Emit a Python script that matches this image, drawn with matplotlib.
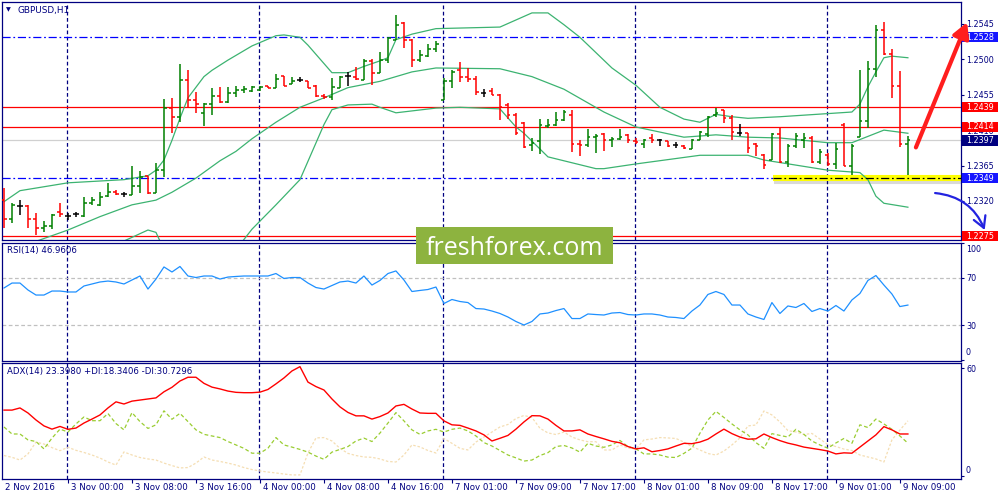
import matplotlib
matplotlib.use('Agg')
import matplotlib.pyplot as plt
import matplotlib.transforms as mtransforms
import matplotlib.patheffects as pe
from matplotlib.patches import Rectangle
import numpy as np

# ---------------- data (GBPUSD H1, 2-9 Nov 2016) ----------------
dateLabels = ['2 Nov 2016', '3 Nov 00:00', '3 Nov 08:00', '3 Nov 16:00', '4 Nov 00:00',
              '4 Nov 08:00', '4 Nov 16:00', '7 Nov 01:00', '7 Nov 09:00', '7 Nov 17:00',
              '8 Nov 01:00', '8 Nov 09:00', '8 Nov 17:00', '9 Nov 01:00', '9 Nov 09:00']
dateTickBars = [0, 8, 16, 24, 32, 40, 48, 56, 64, 72, 80, 88, 96, 104, 112]
daySeparatorBars = [8, 32, 55, 79, 103]

opens = [1.2321, 1.2297, 1.2314, 1.2314, 1.2297, 1.2286, 1.2288, 1.2306, 1.2301, 1.2303,
         1.2301, 1.2317, 1.2315, 1.2326, 1.2331, 1.2329, 1.2328, 1.2339, 1.2352, 1.2330,
         1.2359, 1.2438, 1.2427, 1.2474, 1.2448, 1.2432, 1.2443, 1.2453, 1.2446, 1.2457,
         1.2461, 1.2460, 1.2461, 1.2466, 1.2464, 1.2479, 1.2469, 1.2474, 1.2473, 1.2466,
         1.2453, 1.2452, 1.2464, 1.2479, 1.2478, 1.2474, 1.2498, 1.2483, 1.2499, 1.2525,
         1.2546, 1.2525, 1.2499, 1.2504, 1.2513, 1.2448, 1.2473, 1.2486, 1.2478, 1.2475,
         1.2457, 1.2460, 1.2455, 1.2442, 1.2429, 1.2419, 1.2391, 1.2396, 1.2415, 1.2417,
         1.2423, 1.2429, 1.2392, 1.2391, 1.2401, 1.2405, 1.2397, 1.2399, 1.2404, 1.2396,
         1.2392, 1.2400, 1.2397, 1.2396, 1.2391, 1.2390, 1.2386, 1.2397, 1.2405, 1.2429,
         1.2436, 1.2425, 1.2406, 1.2406, 1.2392, 1.2378, 1.2372, 1.2405, 1.2369, 1.2390,
         1.2397, 1.2400, 1.2369, 1.2378, 1.2367, 1.2416, 1.2364, 1.2401, 1.2422, 1.2488,
         1.2537, 1.2507, 1.2466, 1.2392]
highs = [1.2336, 1.2317, 1.2321, 1.2315, 1.2305, 1.2294, 1.2303, 1.2317, 1.2305, 1.2306,
         1.2325, 1.2325, 1.2331, 1.2343, 1.2334, 1.2331, 1.2364, 1.2358, 1.2352, 1.2368,
         1.2450, 1.2451, 1.2494, 1.2486, 1.2459, 1.2445, 1.2464, 1.2465, 1.2465, 1.2466,
         1.2466, 1.2466, 1.2466, 1.2466, 1.2481, 1.2479, 1.2478, 1.2478, 1.2473, 1.2467,
         1.2456, 1.2476, 1.2479, 1.2484, 1.2490, 1.2500, 1.2500, 1.2509, 1.2528, 1.2556,
         1.2547, 1.2526, 1.2512, 1.2519, 1.2523, 1.2476, 1.2486, 1.2497, 1.2489, 1.2479,
         1.2462, 1.2464, 1.2456, 1.2445, 1.2432, 1.2420, 1.2400, 1.2424, 1.2424, 1.2433,
         1.2436, 1.2436, 1.2397, 1.2412, 1.2405, 1.2406, 1.2401, 1.2412, 1.2405, 1.2400,
         1.2399, 1.2405, 1.2399, 1.2396, 1.2395, 1.2391, 1.2399, 1.2409, 1.2428, 1.2438,
         1.2436, 1.2429, 1.2418, 1.2406, 1.2393, 1.2380, 1.2406, 1.2414, 1.2392, 1.2406,
         1.2406, 1.2402, 1.2386, 1.2381, 1.2394, 1.2419, 1.2392, 1.2486, 1.2498, 1.2544,
         1.2547, 1.2513, 1.2485, 1.2402]
lows = [1.2286, 1.2292, 1.2302, 1.2286, 1.2277, 1.2281, 1.2284, 1.2300, 1.2296, 1.2300,
        1.2300, 1.2315, 1.2314, 1.2325, 1.2328, 1.2325, 1.2328, 1.2330, 1.2329, 1.2330,
        1.2350, 1.2406, 1.2420, 1.2439, 1.2432, 1.2415, 1.2429, 1.2445, 1.2445, 1.2452,
        1.2457, 1.2459, 1.2460, 1.2464, 1.2464, 1.2466, 1.2469, 1.2471, 1.2464, 1.2452,
        1.2450, 1.2448, 1.2464, 1.2466, 1.2474, 1.2474, 1.2467, 1.2483, 1.2495, 1.2525,
        1.2514, 1.2490, 1.2497, 1.2503, 1.2509, 1.2448, 1.2464, 1.2471, 1.2471, 1.2455,
        1.2452, 1.2455, 1.2423, 1.2424, 1.2404, 1.2387, 1.2383, 1.2379, 1.2413, 1.2415,
        1.2422, 1.2382, 1.2377, 1.2389, 1.2381, 1.2383, 1.2389, 1.2397, 1.2394, 1.2392,
        1.2387, 1.2394, 1.2390, 1.2389, 1.2387, 1.2386, 1.2386, 1.2397, 1.2401, 1.2427,
        1.2419, 1.2397, 1.2403, 1.2381, 1.2377, 1.2361, 1.2372, 1.2368, 1.2363, 1.2387,
        1.2387, 1.2368, 1.2367, 1.2364, 1.2361, 1.2364, 1.2353, 1.2401, 1.2413, 1.2478,
        1.2505, 1.2451, 1.2389, 1.2353]
closes = [1.2297, 1.2315, 1.2314, 1.2297, 1.2286, 1.2288, 1.2302, 1.2303, 1.2301, 1.2303,
          1.2317, 1.2321, 1.2325, 1.2331, 1.2329, 1.2329, 1.2339, 1.2350, 1.2330, 1.2359,
          1.2438, 1.2427, 1.2474, 1.2448, 1.2443, 1.2443, 1.2453, 1.2446, 1.2457, 1.2461,
          1.2462, 1.2465, 1.2465, 1.2464, 1.2475, 1.2466, 1.2473, 1.2474, 1.2464, 1.2453,
          1.2452, 1.2465, 1.2478, 1.2479, 1.2475, 1.2498, 1.2483, 1.2499, 1.2527, 1.2544,
          1.2525, 1.2499, 1.2505, 1.2513, 1.2519, 1.2473, 1.2484, 1.2478, 1.2475, 1.2459,
          1.2457, 1.2455, 1.2439, 1.2429, 1.2406, 1.2389, 1.2394, 1.2416, 1.2417, 1.2423,
          1.2433, 1.2392, 1.2391, 1.2401, 1.2403, 1.2397, 1.2399, 1.2401, 1.2397, 1.2395,
          1.2397, 1.2397, 1.2397, 1.2390, 1.2391, 1.2387, 1.2397, 1.2408, 1.2427, 1.2432,
          1.2425, 1.2408, 1.2406, 1.2387, 1.2390, 1.2366, 1.2405, 1.2369, 1.2390, 1.2403,
          1.2400, 1.2369, 1.2382, 1.2367, 1.2386, 1.2364, 1.2390, 1.2422, 1.2488, 1.2537,
          1.2507, 1.2466, 1.2392, 1.2397]

# Bollinger band vertices (bar index, price)
bbUpperBars = [0, 2, 8, 15, 18, 19, 20, 21, 22, 23, 25, 26, 28, 31, 34, 35, 37, 38, 41, 43,
               45, 47, 48, 49, 51, 54, 62, 66, 68, 70, 72, 76, 79, 82, 85, 87, 89, 91, 93, 97,
               106, 107, 108, 109, 110, 111, 113]
bbUpper = [1.2319, 1.2333, 1.2343, 1.2347, 1.2352, 1.2359, 1.2372, 1.2397, 1.2425, 1.2451,
           1.2478, 1.2486, 1.2499, 1.2517, 1.2530, 1.2531, 1.2528, 1.2518, 1.2483, 1.2483,
           1.2491, 1.2498, 1.2502, 1.2525, 1.2532, 1.2539, 1.2541, 1.2559, 1.2559, 1.2544,
           1.2528, 1.2489, 1.2467, 1.2439, 1.2424, 1.2420, 1.2430, 1.2427, 1.2425, 1.2427,
           1.2433, 1.2443, 1.2465, 1.2484, 1.2502, 1.2504, 1.2502]
bbMiddleBars = [3, 8, 12, 16, 19, 21, 24, 27, 29, 31, 34, 37, 40, 43, 47, 51, 54, 62, 66, 70,
                75, 79, 85, 89, 93, 97, 103, 106, 110, 113]
bbMiddle = [1.2265, 1.2283, 1.2300, 1.2315, 1.2321, 1.2331, 1.2349, 1.2371, 1.2383, 1.2399,
            1.2420, 1.2439, 1.2451, 1.2464, 1.2472, 1.2484, 1.2489, 1.2488, 1.2478, 1.2462,
            1.2433, 1.2414, 1.2401, 1.2404, 1.2401, 1.2400, 1.2394, 1.2394, 1.2410, 1.2406]
bbLowerBars = [12, 14, 15, 18, 19, 20, 22, 26, 29, 31, 34, 37, 40, 41, 43, 46, 47, 49, 54, 57,
               62, 64, 65, 68, 74, 75, 79, 87, 93, 95, 103, 107, 108, 109, 110, 113]
bbLower = [1.2245, 1.2260, 1.2269, 1.2283, 1.2280, 1.2258, 1.2207, 1.2220, 1.2258, 1.2284,
           1.2315, 1.2347, 1.2417, 1.2436, 1.2442, 1.2443, 1.2439, 1.2432, 1.2438, 1.2439,
           1.2437, 1.2414, 1.2406, 1.2376, 1.2361, 1.2361, 1.2367, 1.2378, 1.2378, 1.2372,
           1.2359, 1.2356, 1.2347, 1.2326, 1.2317, 1.2312]

rsi = [61.5, 65.7, 65.7, 59.8, 55.5, 55.5, 58.9, 58.9, 58.1, 58.1,
       63.2, 64.9, 66.6, 67.4, 66.6, 64.9, 68.3, 71.7, 60.6, 69.1,
       79.4, 75.1, 79.8, 71.7, 70.4, 71.7, 71.7, 69.1, 70.8, 71.3,
       71.7, 71.7, 71.7, 71.7, 73.8, 69.6, 70.4, 70.4, 65.7, 61.9,
       60.6, 63.6, 66.6, 67.4, 65.7, 71.7, 64.0, 67.9, 73.8, 76.0,
       68.3, 58.5, 59.4, 60.2, 62.3, 48.3, 51.7, 50.0, 49.1, 44.0,
       43.6, 41.9, 39.8, 36.8, 33.0, 30.0, 33.0, 39.4, 40.2, 42.3,
       44.0, 35.5, 35.5, 39.4, 38.9, 38.5, 40.2, 40.6, 38.9, 38.5,
       39.4, 39.4, 38.5, 36.8, 36.4, 35.5, 41.9, 47.0, 56.0, 58.5,
       56.0, 47.0, 47.0, 39.4, 36.8, 34.7, 49.1, 39.8, 46.2, 44.9,
       48.3, 41.5, 44.0, 41.9, 46.6, 41.9, 51.3, 56.8, 67.9, 72.1,
       64.0, 56.4, 45.7, 46.96]

adx = [36.7, 36.7, 37.9, 35.1, 31.2, 27.9, 26.1, 27.6, 26.0, 26.7,
       29.5, 31.7, 34.0, 37.9, 41.3, 40.1, 41.7, 42.3, 42.9, 43.5,
       46.9, 49.4, 52.9, 55.0, 55.0, 51.6, 49.5, 48.5, 47.3, 46.6,
       46.4, 46.4, 46.7, 48.2, 51.3, 54.6, 58.5, 60.9, 52.3, 49.8,
       47.9, 42.9, 38.5, 35.4, 33.5, 33.5, 31.7, 33.1, 35.1, 39.0,
       39.9, 37.3, 35.1, 34.9, 34.9, 30.7, 28.5, 28.2, 26.7, 25.1,
       22.9, 19.5, 21.0, 22.6, 26.1, 30.1, 33.6, 33.5, 31.7, 28.2,
       25.1, 25.1, 25.7, 23.4, 22.0, 20.7, 19.3, 18.5, 16.4, 15.1,
       15.7, 13.5, 14.2, 15.1, 16.7, 18.2, 18.0, 18.9, 20.5, 23.4,
       26.1, 23.6, 21.7, 20.5, 20.7, 23.4, 21.4, 19.7, 18.3, 17.3,
       16.1, 15.4, 14.7, 13.9, 12.3, 12.9, 12.7, 16.1, 19.5, 22.9,
       27.5, 25.7, 23.4, 23.4]
plusDI = [27.3, 23.4, 23.4, 20.1, 19.2, 15.1, 21.1, 26.1, 24.5, 29.0,
          32.9, 30.8, 30.8, 34.8, 29.2, 25.7, 35.3, 30.3, 26.5, 28.5,
          36.3, 31.6, 34.9, 30.3, 25.7, 23.2, 22.3, 21.4, 19.2, 17.3,
          15.4, 12.7, 12.7, 15.5, 21.4, 17.3, 16.1, 14.8, 13.3, 11.1,
          9.3, 13.3, 14.8, 16.4, 19.5, 21.1, 19.2, 23.9, 29.5, 35.3,
          30.7, 25.7, 23.2, 25.1, 26.0, 24.5, 26.0, 26.7, 25.1, 22.3,
          18.6, 16.7, 14.2, 11.7, 10.1, 8.3, 8.9, 11.4, 13.0, 16.4,
          17.0, 15.6, 13.3, 18.2, 16.7, 16.0, 17.3, 19.8, 16.4, 15.1,
          12.3, 12.3, 11.7, 10.5, 10.3, 12.6, 15.5, 23.8, 31.2, 36.0,
          32.6, 29.0, 25.7, 22.9, 18.6, 15.4, 23.6, 22.6, 21.7, 26.0,
          23.2, 19.5, 17.3, 15.5, 18.4, 20.9, 18.2, 28.5, 27.0, 31.7,
          29.0, 26.0, 22.3, 18.3]
minusDI = [11.4, 10.4, 8.9, 12.3, 18.9, 17.8, 15.8, 14.1, 16.0, 14.3,
           13.1, 11.7, 10.0, 7.8, 6.1, 13.4, 11.7, 10.3, 9.5, 8.9,
           7.2, 5.8, 4.5, 4.7, 7.2, 10.6, 8.9, 8.1, 7.2, 6.1,
           4.7, 3.6, 2.8, 2.2, 1.7, 1.1, 0.6, 0.6, 12.8, 21.2,
           21.4, 19.5, 15.4, 12.6, 11.4, 10.6, 10.4, 9.5, 8.1, 7.8,
           11.7, 17.3, 16.2, 14.2, 12.8, 20.9, 18.2, 15.4, 14.5, 18.9,
           21.7, 24.5, 27.3, 28.7, 32.0, 33.7, 32.6, 26.6, 24.0, 23.1,
           24.5, 21.7, 20.1, 19.1, 19.1, 14.5, 14.5, 17.3, 15.6, 15.0,
           20.1, 20.6, 21.4, 21.2, 20.9, 18.9, 16.4, 14.5, 12.5, 11.7,
           13.9, 17.3, 21.2, 27.9, 28.4, 36.2, 34.0, 30.1, 25.3, 24.5,
           23.1, 23.7, 20.6, 17.5, 16.4, 15.0, 14.2, 11.7, 10.6, 9.5,
           7.8, 20.1, 25.6, 30.7]

priceTicks = [1.2320, 1.2365, 1.2410, 1.2455, 1.2500, 1.2545]
redLevels = [1.2439, 1.2414, 1.2275]
blueLevels = [1.2528, 1.2349]
bidPrice = 1.2397
tagPrices = [1.2528, 1.2439, 1.2414, 1.2397, 1.2349, 1.2275]
tagColors = ['#1515FF', '#FF0000', '#FF0000', '#000080', '#1515FF', '#FF0000']

# ---------------- style ----------------
NAVY = '#000080'
GREEN = '#008000'
RED = '#FF0000'
BAND = '#3CB371'
FONT = 'DejaVu Sans'
FS = 5.8
plt.rcParams['font.family'] = FONT

W, H = 1000, 500
fig = plt.figure(figsize=(10, 5), dpi=100)
fig.patch.set_facecolor('white')


def pxBox(left, top, right, bottom):
    return [left / W, 1 - bottom / H, (right - left) / W, (bottom - top) / H]


axMain = fig.add_axes(pxBox(2.3, 1.5, 960.7, 240))
axRsi = fig.add_axes(pxBox(2.3, 242.5, 960.7, 360.5))
axAdx = fig.add_axes(pxBox(2.3, 362.7, 960.7, 479))

xmin, xmax = -0.21, 119.6
for ax in (axMain, axRsi, axAdx):
    ax.set_xlim(xmin, xmax)
    for s in ax.spines.values():
        s.set_color(NAVY)
        s.set_linewidth(0.9)
    ax.yaxis.tick_right()
    ax.tick_params(axis='y', which='both', direction='out', length=2.5, width=0.8,
                   color=NAVY, labelcolor=NAVY, labelsize=FS, pad=1.5)
    ax.tick_params(axis='x', bottom=False, labelbottom=False)
    for b in daySeparatorBars:
        ax.axvline(b - 0.125, color=NAVY, lw=0.9, ls=(0, (3, 2)), zorder=1)

# ---------------- main price panel ----------------
axMain.set_ylim(1.22703, 1.25735)
axMain.set_yticks(priceTicks)
axMain.set_yticklabels([f'{p:.4f}' for p in priceTicks])

for lvl in redLevels:
    axMain.axhline(lvl, color=RED, lw=0.9, zorder=1)
for lvl in blueLevels:
    axMain.axhline(lvl, color='#0000FF', lw=0.9, ls=(0, (6.5, 2.2, 1.4, 2.2)), zorder=1)
axMain.axhline(bidPrice, color='#D0D0D0', lw=0.9, zorder=1)

# yellow highlight of the 1.2349 support
hlStart, hlEnd = 96.1, 119.6
axMain.plot([hlStart, hlEnd], [1.2349, 1.2349], color='#FFFF00', lw=4.4,
            solid_capstyle='butt', zorder=2,
            path_effects=[pe.SimpleLineShadow(offset=(1, -1.8), shadow_color='black', alpha=0.15),
                          pe.Normal()])
axMain.plot([hlStart, hlEnd], [1.2349, 1.2349], color='black', lw=0.9,
            ls=(0, (6.5, 2.2, 1.4, 2.2)), zorder=2.1)

axMain.plot(bbUpperBars, bbUpper, color=BAND, lw=0.9, zorder=2)
axMain.plot(bbMiddleBars, bbMiddle, color=BAND, lw=0.9, zorder=2)
axMain.plot(bbLowerBars, bbLower, color=BAND, lw=0.9, zorder=2)

idx = np.arange(len(closes))
barColors = [GREEN if c > o else (RED if c < o else 'black') for o, c in zip(opens, closes)]
axMain.vlines(idx, lows, highs, colors=barColors, lw=1.1, zorder=3)
axMain.hlines(opens, idx - 0.32, idx, colors=barColors, lw=1.1, zorder=3)
axMain.hlines(closes, idx, idx + 0.32, colors=barColors, lw=1.1, zorder=3)

# price tags on the right
tagTrans = mtransforms.blended_transform_factory(axMain.transAxes, axMain.transData)
for p, c in zip(tagPrices, tagColors):
    axMain.add_patch(Rectangle((1.0014, p - 0.00066), 0.0376, 0.00132, transform=tagTrans,
                               facecolor=c, edgecolor='none', clip_on=False, zorder=6))
    axMain.text(1.0055, p, f'{p:.4f}', transform=tagTrans, color='white', fontsize=FS,
                va='center', ha='left', clip_on=False, zorder=7)

# arrows
redFrom, redTo = (114.0, 1.2388), (120.4, 1.2547)
axMain.annotate('', xy=redTo, xytext=redFrom, annotation_clip=False,
                arrowprops=dict(arrowstyle='-|>,head_length=0.9,head_width=0.5', lw=3.0,
                                color='#FF1E1E', shrinkA=0, shrinkB=0,
                                path_effects=[pe.withSimplePatchShadow(offset=(1.5, -1.5),
                                                                       shadow_rgbFace='grey',
                                                                       alpha=0.4)]),
                zorder=8)
blueFrom, blueTo = (116.4, 1.2330), (122.6, 1.2283)
axMain.annotate('', xy=blueTo, xytext=blueFrom, annotation_clip=False,
                arrowprops=dict(arrowstyle='->,head_length=0.8,head_width=0.45', lw=1.6,
                                color='#2323E0', shrinkA=0, shrinkB=0,
                                connectionstyle='arc3,rad=-0.3'),
                zorder=8)

# ---------------- RSI panel ----------------
axRsi.set_ylim(-0.2, 100.2)
axRsi.axhline(70, color='#C0C0C0', lw=0.9, ls=(0, (3, 2)), zorder=1)
axRsi.axhline(30, color='#C0C0C0', lw=0.9, ls=(0, (3, 2)), zorder=1)
axRsi.plot(idx, rsi, color='#1E90FF', lw=0.9, zorder=3)
axRsi.set_yticks([0, 30, 70, 100])
axRsi.set_yticklabels(['', '30', '70', ''])
rsiTrans = mtransforms.blended_transform_factory(axRsi.transAxes, axRsi.transData)
axRsi.text(1.0055, 98, '100', transform=rsiTrans, color=NAVY, fontsize=FS, va='top', ha='left')
axRsi.text(1.0055, 3, '0', transform=rsiTrans, color=NAVY, fontsize=FS, va='bottom', ha='left')

# ---------------- ADX panel ----------------
axAdx.set_ylim(-1.67, 63.1)
axAdx.plot(idx, minusDI, color='#F5DEB3', lw=0.9, ls=(0, (2, 1.5)), zorder=2)
axAdx.plot(idx, plusDI, color='#9ACD32', lw=0.9, ls=(0, (3, 2)), zorder=2)
axAdx.plot(idx, adx, color=RED, lw=1.0, zorder=3)
axAdx.set_yticks([0, 60])
axAdx.set_yticklabels(['', '60'])
adxTrans = mtransforms.blended_transform_factory(axAdx.transAxes, axAdx.transData)
axAdx.text(1.0055, 0.4, '0', transform=adxTrans, color=NAVY, fontsize=FS, va='bottom', ha='left')

axAdx.set_xticks(dateTickBars[1:])
axAdx.tick_params(axis='x', bottom=True, labelbottom=False, direction='out', length=3,
                  width=0.8, color=NAVY)
dateTrans = mtransforms.blended_transform_factory(axAdx.transData, axAdx.transAxes) + \
    mtransforms.ScaledTranslation(0.03, -0.09, fig.dpi_scale_trans)
for b, lab in zip(dateTickBars, dateLabels):
    x = b if b > 0 else -0.2
    axAdx.text(x, 0, lab, transform=dateTrans, color=NAVY, fontsize=FS + 0.4,
               va='center', ha='left', clip_on=False)

# ---------------- panel captions ----------------
fig.text(6 / W, 1 - 10 / H, '\u25bc', color=NAVY, fontsize=4.5, va='center', ha='left')
fig.text(18 / W, 1 - 10 / H, 'GBPUSD,H1', color=NAVY, fontsize=FS + 0.6, va='center', ha='left')
fig.text(7 / W, 1 - 251 / H, 'RSI(14) 46.9606', color=NAVY, fontsize=FS + 0.4, va='center', ha='left')
fig.text(7 / W, 1 - 371.5 / H, 'ADX(14) 23.3980 +DI:18.3406 -DI:30.7296', color=NAVY,
         fontsize=FS + 0.4, va='center', ha='left')

# ---------------- watermark ----------------
fig.add_artist(Rectangle((416 / W, 1 - 264 / H), 197 / W, 37 / H, transform=fig.transFigure,
                         facecolor='#8DB33F', edgecolor='none', zorder=10))
fig.text(514.5 / W, 1 - 255 / H, 'freshforex.com', color='white', fontsize=18,
         family='Open Sans', ha='center', va='baseline', zorder=11)

fig.savefig('out.png', dpi=100, facecolor='white')
